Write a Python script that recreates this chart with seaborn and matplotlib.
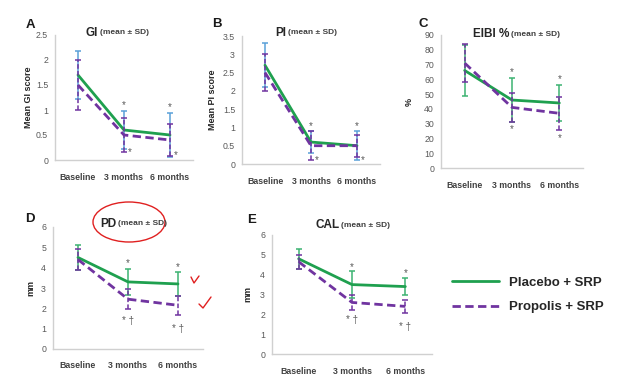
import pandas as pd
import seaborn as sns
import matplotlib.pyplot as plt
from matplotlib.patches import Ellipse
from matplotlib.lines import Line2D

# time points and groups
times = ["Baseline", "3 months", "6 months"]
groups = ["Placebo + SRP", "Propolis + SRP"]

# GI
gi_placebo = [1.7, 0.6, 0.5]
gi_placebo_sd = [0.48, 0.38, 0.43]
gi_propolis = [1.5, 0.5, 0.4]
gi_propolis_sd = [0.5, 0.33, 0.32]

# PI
pi_placebo = [2.7, 0.6, 0.5]
pi_placebo_sd = [0.6, 0.3, 0.4]
pi_propolis = [2.5, 0.5, 0.5]
pi_propolis_sd = [0.5, 0.4, 0.3]

# EIBI %
eibi_placebo = [66, 46, 44]
eibi_placebo_sd = [17, 15, 12]
eibi_propolis = [71, 41, 37]
eibi_propolis_sd = [13, 10, 11]

# PD
pd_placebo = [4.5, 3.3, 3.2]
pd_placebo_sd = [0.6, 0.65, 0.6]
pd_propolis = [4.4, 2.45, 2.15]
pd_propolis_sd = [0.5, 0.5, 0.47]

# CAL
cal_placebo = [4.8, 3.5, 3.4]
cal_placebo_sd = [0.5, 0.7, 0.45]
cal_propolis = [4.65, 2.6, 2.4]
cal_propolis_sd = [0.35, 0.4, 0.33]

# significance marks: (time index, y, text, offset right)
gi_marks = [(1, 1.1, "*", 0), (2, 1.05, "*", 0), (1, 0.15, "*", 0.13), (2, 0.1, "*", 0.13)]
pi_marks = [(1, 1.05, "*", 0), (2, 1.05, "*", 0), (1, 0.12, "*", 0.13), (2, 0.12, "*", 0.13)]
eibi_marks = [(1, 65, "*", 0), (2, 60, "*", 0), (1, 26, "*", 0), (2, 20, "*", 0)]
pd_marks = [(1, 4.25, "*", 0), (2, 4.05, "*", 0), (1, 1.4, "* †", 0), (2, 1.0, "* †", 0)]
cal_marks = [(1, 4.4, "*", 0), (2, 4.1, "*", 0), (1, 1.7, "* †", 0), (2, 1.35, "* †", 0)]

GREEN = "#1fa04f"
PURPLE = "#7034a0"
BLUE_ERR = "#5aa0d8"
GREEN_ERR = "#3cb371"
GRAY = "#595959"

sns.set_style("white")
plt.rcParams["font.family"] = ["Liberation Sans", "DejaVu Sans"]

W, H = 636, 388
fig = plt.figure(figsize=(W / 100, H / 100), dpi=100)
renderer = fig.canvas.get_renderer()


def px_rect(l, t, r, b):
    return [l / W, 1 - b / H, (r - l) / W, (b - t) / H]


def panel(rect, placebo, placebo_sd, propolis, propolis_sd, ymax, ystep,
          err_color, marks, ylabel, ylab_x):
    ax = fig.add_axes(px_rect(*rect))
    df = pd.DataFrame({
        "time": times * 2,
        "value": placebo + propolis,
        "group": [groups[0]] * 3 + [groups[1]] * 3,
    })
    sns.lineplot(data=df, x="time", y="value", hue="group", style="group",
                 palette=[GREEN, PURPLE], dashes=["", (3, 1.6)],
                 linewidth=2, legend=False, ax=ax, zorder=3)
    ax.errorbar(times, placebo, yerr=placebo_sd, fmt="none", ecolor=err_color,
                elinewidth=1.1, capsize=2.2, capthick=1.1, zorder=2)
    eb = ax.errorbar(times, propolis, yerr=propolis_sd, fmt="none", ecolor=PURPLE,
                     elinewidth=1.1, capsize=2.2, capthick=1.1, zorder=4)
    eb[-1][0].set_linestyle((0, (3, 1.5)))
    for xi, yv, s, dx in marks:
        ax.text(xi + dx, yv, s, ha="center", va="center", fontsize=7, color=GRAY)
    ax.set_xlim(-0.5, 2.5)
    ax.set_ylim(0, ymax)
    yt = [round(i * ystep, 2) for i in range(int(round(ymax / ystep)) + 1)]
    ax.set_yticks(yt)
    ax.set_yticklabels([("%g" % v) for v in yt], fontsize=6.3, color=GRAY)
    ax.set_xticks(range(3))
    ax.set_xticklabels(times, fontsize=6.3, fontweight="bold", color="#404040")
    ax.tick_params(axis="both", length=0, pad=5)
    ax.tick_params(axis="x", pad=9)
    sns.despine(ax=ax)
    for sp in ["left", "bottom"]:
        ax.spines[sp].set_color("#d0d0d0")
        ax.spines[sp].set_linewidth(1)
    ax.set_xlabel("")
    ax.set_ylabel(ylabel, fontsize=6.5, fontweight="bold", color="#262626")
    ax.yaxis.set_label_coords(ylab_x, 0.5)
    return ax


def title(x_main, y, main, letter_xy):
    t = fig.text(x_main / W, 1 - y / H, main, fontsize=8.5, fontweight="bold",
                 color="#262626", va="center")
    x_end = t.get_window_extent(renderer).x1
    fig.text((x_end + 2) / W, 1 - y / H, "(mean ± SD)", fontsize=6, fontweight="bold",
             color="#404040", va="center")
    fig.text(letter_xy[0] / W, 1 - letter_xy[1] / H, letter_xy[2], fontsize=9.5,
             fontweight="bold", color="#1a1a1a", va="center", ha="center")


panel((55, 35, 193, 160), gi_placebo, gi_placebo_sd, gi_propolis, gi_propolis_sd,
      2.5, 0.5, BLUE_ERR, gi_marks, "Mean GI score", -0.16)
title(86, 33, "GI", (30, 25, "A"))

panel((242, 36, 380, 164), pi_placebo, pi_placebo_sd, pi_propolis, pi_propolis_sd,
      3.5, 0.5, BLUE_ERR, pi_marks, "Mean PI score", -0.18)
title(275, 33, "PI", (217, 24, "B"))

panel((441, 35, 583, 168), eibi_placebo, eibi_placebo_sd, eibi_propolis, eibi_propolis_sd,
      90, 10, GREEN_ERR, eibi_marks, "%", -0.19)
title(473, 34, "EIBI %", (423, 24, "C"))

panel((53, 227, 203, 349), pd_placebo, pd_placebo_sd, pd_propolis, pd_propolis_sd,
      6, 1, GREEN_ERR, pd_marks, "mm", -0.12)
title(100, 224, "PD", (30, 219, "D"))

panel((272, 235, 432, 354), cal_placebo, cal_placebo_sd, cal_propolis, cal_propolis_sd,
      6, 1, GREEN_ERR, cal_marks, "mm", -0.12)
title(315, 225, "CAL", (252, 220, "E"))

# legend
handles = [Line2D([], [], color=GREEN, lw=2),
           Line2D([], [], color=PURPLE, lw=2, ls=(0, (3, 1.6)))]
fig.legend(handles, groups, loc="upper left", bbox_to_anchor=(440 / W, 1 - 265 / H),
           frameon=False, handlelength=3.6, handletextpad=0.7, labelspacing=0.9,
           prop={"size": 9.5, "weight": "bold"}, labelcolor="#262626")

# red hand-drawn marks on the PD panel
fig.add_artist(Ellipse((129 / W, 1 - 222 / H), 72 / W, 40 / H, fill=False,
                       edgecolor="#e02020", lw=1, transform=fig.transFigure))
fig.add_artist(Line2D([191 / W, 194 / W, 199 / W], [1 - 277 / H, 1 - 283 / H, 1 - 276 / H],
                      color="#e02020", lw=1, transform=fig.transFigure))
fig.add_artist(Line2D([199 / W, 203 / W, 211 / W], [1 - 304 / H, 1 - 308 / H, 1 - 297 / H],
                      color="#e02020", lw=1, transform=fig.transFigure))

plt.savefig("out.png", dpi=100)
